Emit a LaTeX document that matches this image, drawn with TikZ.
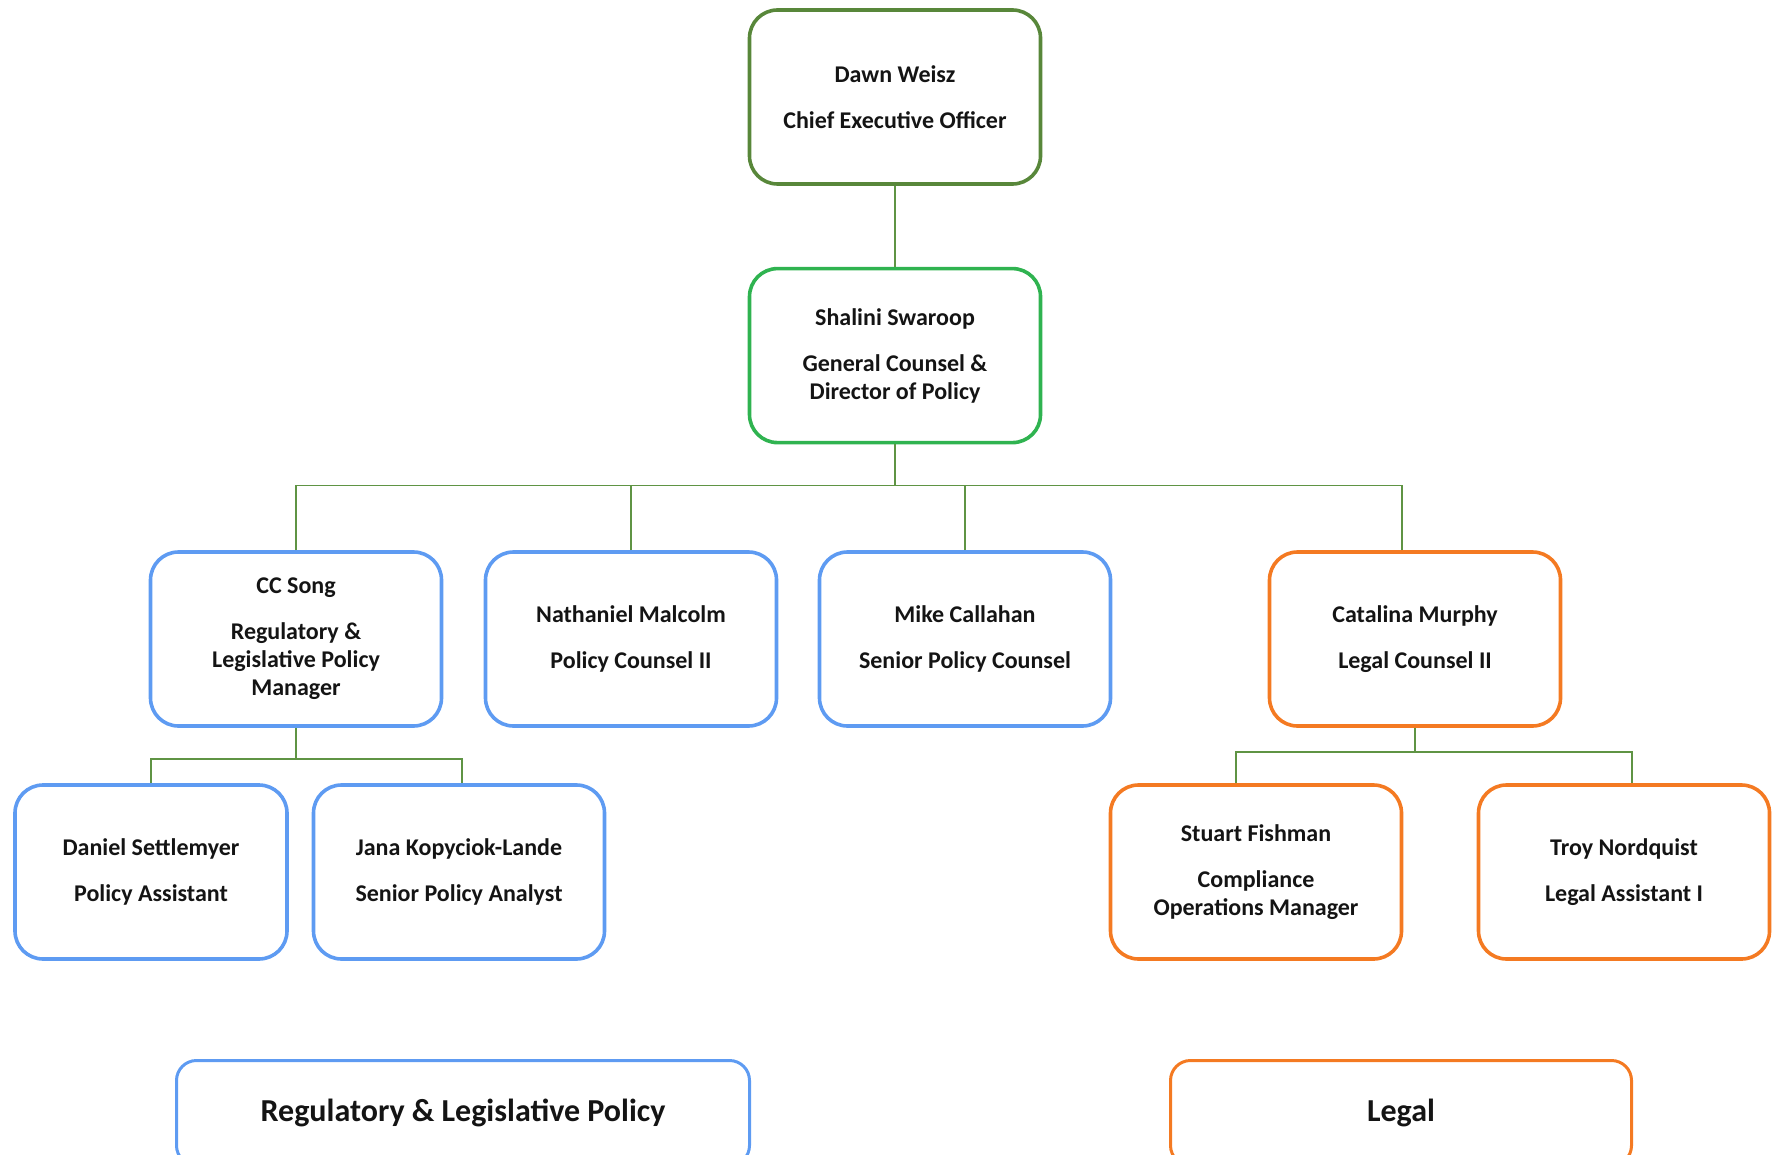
\documentclass[tikz,border=0pt]{standalone}
\usepackage{fontspec}
\setmainfont{Carlito}
\usetikzlibrary{positioning}

\definecolor{ceogreen}{HTML}{58873A}
\definecolor{gcgreen}{HTML}{2FB350}
\definecolor{polblue}{HTML}{5E9BF2}
\definecolor{legorange}{HTML}{F47A22}
\definecolor{linkgreen}{HTML}{5F9444}

\begin{document}
\begin{tikzpicture}[x=1pt, y=-1pt, node distance=81pt]
        \tikzstyle{every node}=[font=\fontsize{24}{28}\selectfont\bfseries, text=black!92]
        \tikzstyle{box}=[rounded corners=28pt, line width=3.6pt, align=center,
          minimum width=291pt, minimum height=174pt, inner sep=0pt]
        \tikzstyle{link}=[linkgreen, line width=1.4pt]
        \tikzstyle{tag}=[rounded corners=20pt, line width=3pt, minimum height=105pt,
          font=\fontsize{32}{36}\selectfont\bfseries, inner sep=0pt]
        \clip (0,0) rectangle (1776,1155) ;
        % top of the chart
        \node[box, draw=ceogreen] (ceo) at (895,97) {Dawn Weisz\\[18pt]Chief Executive Officer} ;
        \node[box, draw=gcgreen] (gc) [below=of ceo] {Shalini Swaroop\\[18pt]General Counsel \&\\Director of Policy} ;
        % second row
        \node[box, draw=polblue] (ccs) at (296,639) {CC Song\\[18pt]Regulatory \&\\Legislative Policy\\Manager} ;
        \node[box, draw=polblue] (nat) at (631,639) {Nathaniel Malcolm\\[18pt]Policy Counsel II} ;
        \node[box, draw=polblue] (mike) at (965,639) {Mike Callahan\\[18pt]Senior Policy Counsel} ;
        \node[box, draw=legorange] (cat) at (1415,639) {Catalina Murphy\\[18pt]Legal Counsel II} ;
        % third row
        \node[box, draw=polblue, minimum width=272pt] (dan) at (151,872) {Daniel Settlemyer\\[18pt]Policy Assistant} ;
        \node[box, draw=polblue] (jana) at (459,872) {Jana Kopyciok-Lande\\[18pt]Senior Policy Analyst} ;
        \node[box, draw=legorange] (stu) at (1256,872) {Stuart Fishman\\[18pt]Compliance\\Operations Manager} ;
        \node[box, draw=legorange] (troy) at (1624,872) {Troy Nordquist\\[18pt]Legal Assistant I} ;
        % legend
        \node[tag, draw=polblue, minimum width=573pt] (regtag) at (463,1113) {Regulatory \& Legislative Policy} ;
        \node[tag, draw=legorange, minimum width=461pt] (legtag) at (1401,1113) {Legal} ;

        \coordinate (bus) at ([yshift=-41pt]gc.south) ;
        \coordinate (ccbus) at ([yshift=-31pt]ccs.south) ;
        \coordinate (catbus) at ([yshift=-24pt]cat.south) ;
        \draw[link] (ceo) -- (gc) ;
        \draw[link] (gc.south) -- (bus) ;
        \foreach \n in {ccs,nat,mike}
          \draw[link] (\n.north) |- (bus) ;
        \draw[link] ([xshift=-13pt]cat.north) |- (bus) ;
        \draw[link] (ccs.south) -- (ccbus) ;
        \draw[link] (dan.north) |- (ccbus) ;
        \draw[link] ([xshift=3pt]jana.north) |- (ccbus) ;
        \draw[link] (cat.south) -- (catbus) ;
        \draw[link] ([xshift=-20pt]stu.north) |- (catbus) ;
        \draw[link] ([xshift=8pt]troy.north) |- (catbus) ;
\end{tikzpicture}
\end{document}
